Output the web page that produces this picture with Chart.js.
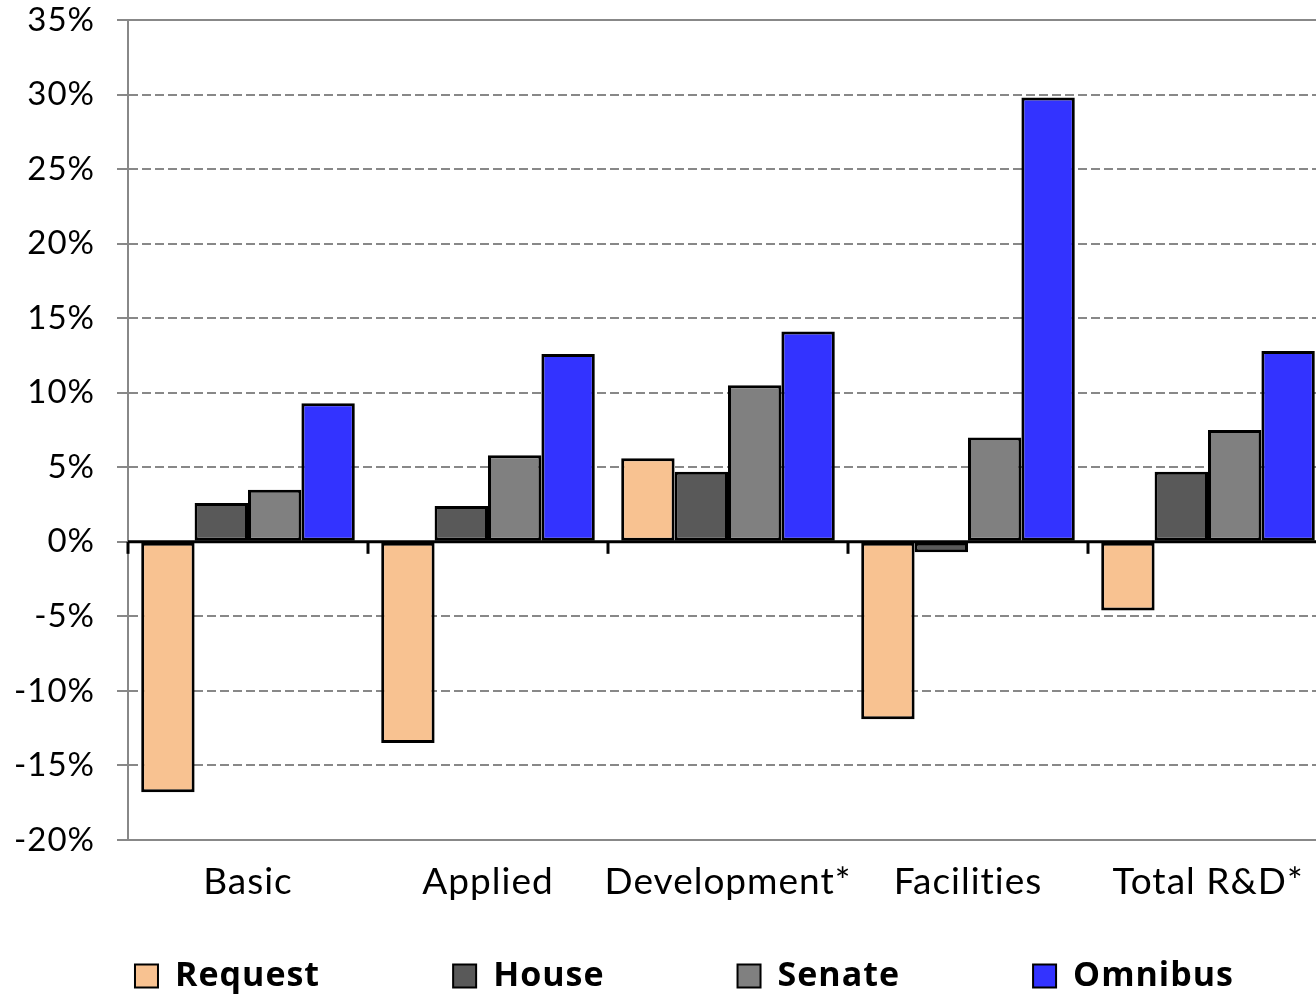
<!DOCTYPE html>
<html>
<head>
<meta charset="utf-8">
<script src="https://cdn.jsdelivr.net/npm/chart.js@4/dist/chart.umd.min.js"></script>
<style>
html,body{margin:0;padding:0;background:#fff;overflow:hidden;}
#wrap{width:1316px;height:996px;overflow:hidden;position:relative;}
canvas{display:block;}
</style>
</head>
<body>
<div id="wrap"><canvas id="c" width="1328" height="996"></canvas></div>
<script>
const categories = ['Basic', 'Applied', 'Development*', 'Facilities', 'Total R&D*'];
const seriesNames = ['Request', 'House', 'Senate', 'Omnibus'];
const request  = [-16.8, -13.5, 5.6, -11.9, -4.6];
const house    = [2.6, 2.4, 4.7, -0.7, 4.7];
const senate   = [3.5, 5.8, 10.5, 7.0, 7.5];
const omnibus  = [9.3, 12.6, 14.1, 29.8, 12.8];
const yMin = -20, yMax = 35, yStep = 5;

const FONT = 'Lato, "Open Sans", sans-serif';
const LEG_FONT = '"Open Sans", Lato, sans-serif';
const LEG_PAD = 133;
const LEG_SIZE = 34;
const LEG_CENTER = 976;
const LEG_RIGHT = 1367;
const PAD_L = 100;

const textStyle = {
  id: 'textStyle',
  beforeUpdate(c) { c.ctx.letterSpacing = '1px'; },
  beforeLayout(c) { c.ctx.letterSpacing = '1px'; },
  beforeDraw(c) { c.ctx.letterSpacing = '1px'; }
};

const axisDeco = {
  id: 'axisDeco',
  afterLayout(chart) {
    const lg = chart.legend;
    if (lg) {
      lg.top = LEG_CENTER - LEG_SIZE / 2 - LEG_PAD;
      lg.bottom = chart.height;
      lg.height = lg.bottom - lg.top;
      lg.right = LEG_RIGHT;
      lg.width = lg.right - lg.left;
    }
  },
  beforeDatasetsDraw(chart) {
    const {ctx, chartArea: a, scales: {y}} = chart;
    ctx.save();
    ctx.setLineDash([]);
    ctx.strokeStyle = '#888';
    ctx.lineWidth = 2;
    [yMax, yMin].forEach(v => {
      const py = Math.round(y.getPixelForValue(v));
      ctx.beginPath(); ctx.moveTo(a.left - 11, py); ctx.lineTo(a.right, py); ctx.stroke();
    });
    ctx.restore();
  },
  afterDatasetsDraw(chart) {
    const {ctx, chartArea: a, scales: {x, y}} = chart;
    const y0 = y.getPixelForValue(0);
    ctx.save();
    ctx.setLineDash([]);
    ctx.strokeStyle = '#000';
    ctx.lineWidth = 3;
    ctx.beginPath(); ctx.moveTo(a.left, y0); ctx.lineTo(a.right, y0); ctx.stroke();
    const n = categories.length;
    for (let i = 0; i <= n; i++) {
      let xb;
      if (i === 0) xb = a.left;
      else if (i === n) xb = a.right;
      else xb = (x.getPixelForValue(i - 1) + x.getPixelForValue(i)) / 2;
      ctx.beginPath(); ctx.moveTo(xb, y0); ctx.lineTo(xb, y0 + 12); ctx.stroke();
    }
    ctx.restore();
  }
};

const colors = ['#F8C291', '#595959', '#808080', '#3333FF'];
const values = [request, house, senate, omnibus];
const datasets = seriesNames.map((name, i) => ({
  label: name, data: values[i], backgroundColor: colors[i], borderColor: '#000', borderWidth: 3,
  borderSkipped: false, barPercentage: 1.0, categoryPercentage: 0.89
}));

new Chart(document.getElementById('c'), {
  type: 'bar',
  data: { labels: categories, datasets },
  options: {
    responsive: false,
    animation: false,
    layout: { padding: { top: 0, left: -PAD_L, right: 0, bottom: 0 } },
    plugins: {
      tooltip: { enabled: false },
      legend: {
        position: 'bottom',
        align: 'end',
        maxHeight: 56,
        labels: {
          boxWidth: 23, boxHeight: 23, padding: LEG_PAD, color: '#000',
          font: { family: LEG_FONT, size: LEG_SIZE, weight: 'bold' },
          generateLabels(chart) {
            return Chart.defaults.plugins.legend.labels.generateLabels(chart).map(l => ({...l, lineWidth: 2}));
          }
        }
      }
    },
    scales: {
      x: {
        grid: { display: false, drawTicks: false },
        border: { display: false },
        ticks: { color: '#000', padding: 20, font: { family: FONT, size: 37 }, maxRotation: 0, autoSkip: false },
        afterFit(s) { s.height = 100; }
      },
      y: {
        min: yMin, max: yMax,
        grid: { color: '#888', lineWidth: 2, tickLength: 11, tickColor: '#888', tickWidth: 2 },
        border: { display: true, color: '#888', width: 2, dash: [9, 4] },
        ticks: { stepSize: yStep, color: '#000', padding: 22, font: { family: FONT, size: 33 },
                 callback: v => v + '%' },
        afterFit(s) { s.width = 128 + PAD_L; s.paddingTop = 20; s.paddingBottom = 0; }
      }
    }
  },
  plugins: [textStyle, axisDeco]
});
</script>
</body>
</html>
